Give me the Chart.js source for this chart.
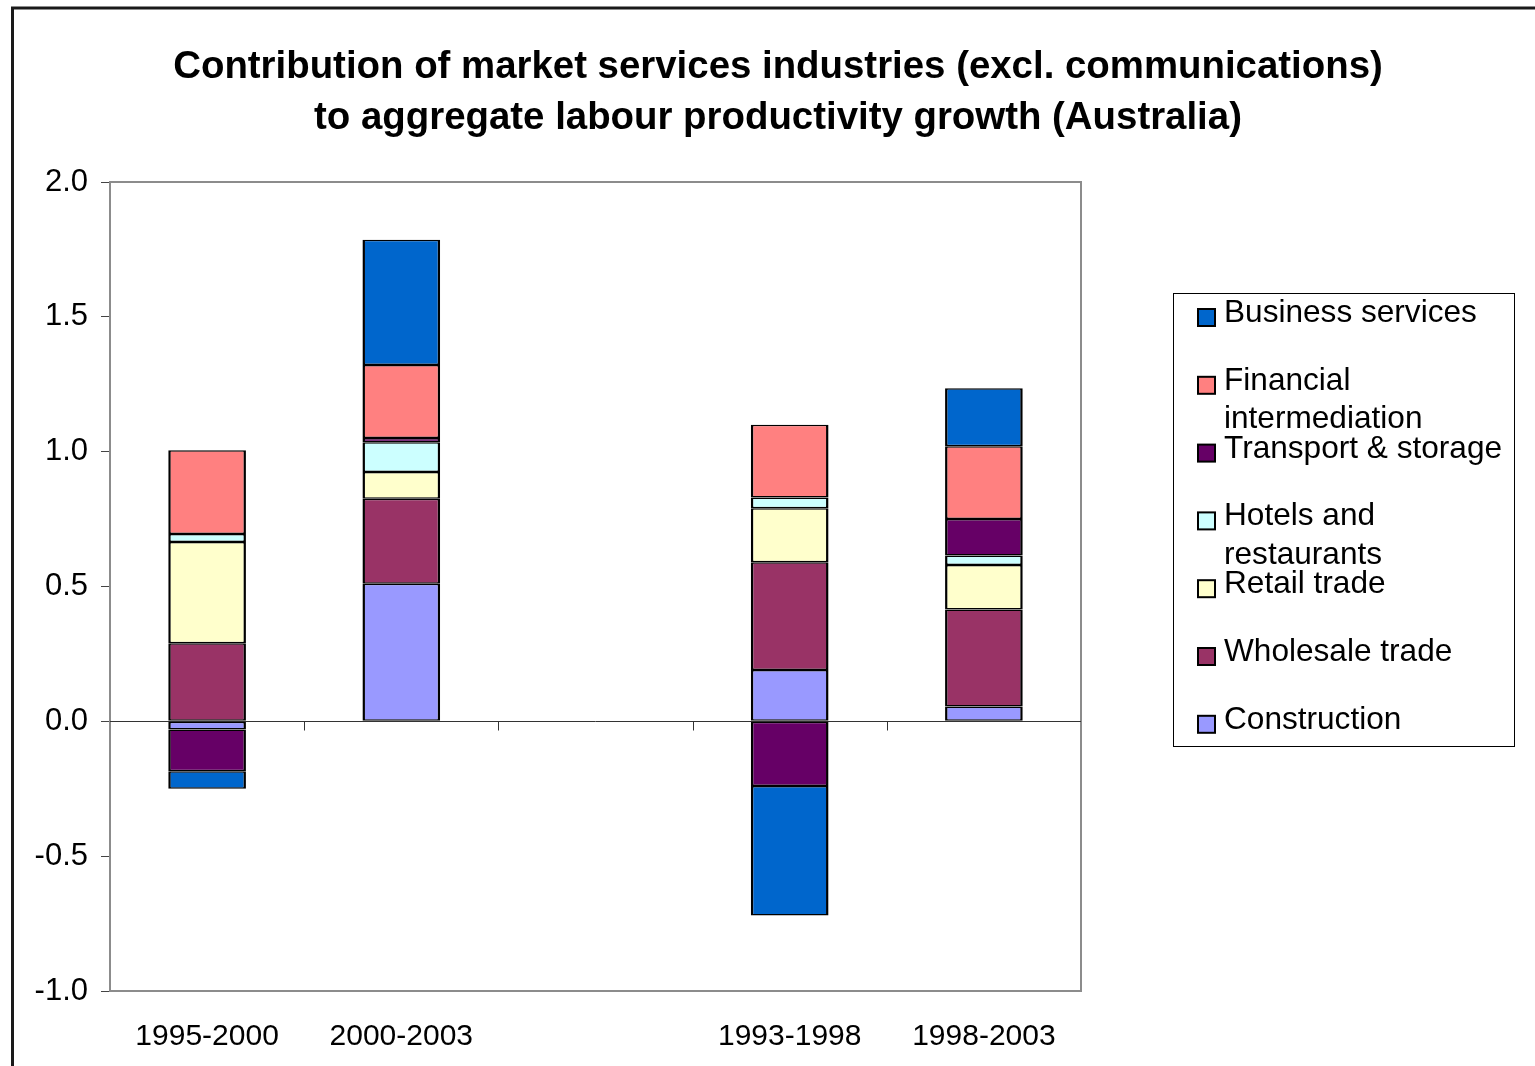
<!DOCTYPE html>
<html>
<head>
<meta charset="utf-8">
<script src="https://cdn.jsdelivr.net/npm/chart.js@4/dist/chart.umd.min.js"></script>
<style>
  html, body { margin: 0; padding: 0; background: #ffffff; }
  #wrap { position: relative; width: 1535px; height: 1066px; }
  canvas { display: block; }
</style>
</head>
<body>
<div id="wrap"><canvas id="chart" width="1535" height="1066"></canvas></div>
<script>
// Periods (the blank slot separates the two groups of periods)
const categories = ['1995-2000', '2000-2003', '', '1993-1998', '1998-2003'];

// Contribution to aggregate labour productivity growth, percentage points
const construction = [-0.03, 0.51, null, 0.19, 0.055];
const wholesaleTrade = [0.29, 0.315, null, 0.40, 0.36];
const retailTrade = [0.375, 0.10, null, 0.20, 0.165];
const hotelsRestaurants = [0.03, 0.11, null, 0.04, 0.035];
const transportStorage = [-0.155, 0.016, null, -0.24, 0.135];
const financialIntermediation = [0.31, 0.27, null, 0.27, 0.27];
const businessServices = [-0.065, 0.465, null, -0.48, 0.215];

const yTicks = [-1.0, -0.5, 0.0, 0.5, 1.0, 1.5, 2.0];

const titleLines = [
  'Contribution of market services industries (excl. communications)',
  'to aggregate labour productivity growth (Australia)'
];

const FONT = '"Liberation Sans", Arial, sans-serif';

function series(label, data, color) {
  return {
    label: label,
    data: data,
    backgroundColor: color,
    borderColor: '#000000',
    borderWidth: { top: 1.5, bottom: 1.5, left: 2.5, right: 2.5 },
    borderSkipped: false,
    barPercentage: 0.4,
    categoryPercentage: 1.0
  };
}

// Stacked bottom-to-top
const datasets = [
  series('Construction', construction, '#9999FF'),
  series('Wholesale trade', wholesaleTrade, '#993366'),
  series('Retail trade', retailTrade, '#FFFFCC'),
  series('Hotels and restaurants', hotelsRestaurants, '#CCFFFF'),
  series('Transport & storage', transportStorage, '#660066'),
  series('Financial intermediation', financialIntermediation, '#FF8080'),
  series('Business services', businessServices, '#0066CC')
];

function wrapText(ctx, text, maxWidth) {
  const words = text.split(' ');
  const lines = [];
  let line = '';
  for (const w of words) {
    const test = line ? line + ' ' + w : w;
    if (line && ctx.measureText(test).width > maxWidth) {
      lines.push(line);
      line = w;
    } else {
      line = test;
    }
  }
  if (line) lines.push(line);
  return lines;
}

const decorations = {
  id: 'decorations',
  beforeDraw(chart) {
    const ctx = chart.ctx;
    ctx.save();
    ctx.fillStyle = '#ffffff';
    ctx.fillRect(0, 0, chart.width, chart.height);
    ctx.restore();
  },
  beforeDatasetsDraw(chart) {
    const ctx = chart.ctx;
    const a = chart.chartArea;
    const x = chart.scales.x;
    const y = chart.scales.y;
    ctx.save();
    // plot frame
    ctx.strokeStyle = '#8c8c8c';
    ctx.lineWidth = 2;
    ctx.strokeRect(a.left, a.top, a.right - a.left, a.bottom - a.top);
    // zero line with category ticks
    const y0 = Math.round(y.getPixelForValue(0)) + 0.5;
    ctx.strokeStyle = '#333333';
    ctx.lineWidth = 1;
    ctx.beginPath();
    ctx.moveTo(a.left, y0);
    ctx.lineTo(a.right, y0);
    const n = categories.length;
    for (let i = 1; i < n; i++) {
      const bx = Math.round((x.getPixelForValue(i - 1) + x.getPixelForValue(i)) / 2) + 0.5;
      ctx.moveTo(bx, y0);
      ctx.lineTo(bx, y0 + 9);
    }
    ctx.stroke();
    ctx.restore();
  },
  afterDraw(chart) {
    const ctx = chart.ctx;
    ctx.save();
    // outer frame
    ctx.strokeStyle = '#1a1a1a';
    ctx.lineWidth = 3;
    ctx.beginPath();
    ctx.moveTo(12.5, chart.height + 5);
    ctx.lineTo(12.5, 8);
    ctx.lineTo(chart.width + 5, 8);
    ctx.stroke();

    // title
    ctx.fillStyle = '#000000';
    ctx.font = 'bold 38.4px ' + FONT;
    ctx.textAlign = 'center';
    ctx.textBaseline = 'alphabetic';
    ctx.fillText(titleLines[0], 778, 78);
    ctx.fillText(titleLines[1], 778, 129);

    // legend
    const lx = 1173, ly = 293, lw = 341, lh = 453;
    ctx.strokeStyle = '#000000';
    ctx.lineWidth = 1;
    ctx.strokeRect(lx + 0.5, ly + 0.5, lw, lh);
    ctx.font = '31.6px ' + FONT;
    ctx.textAlign = 'left';
    const items = chart.data.datasets.slice().reverse();
    items.forEach((ds, k) => {
      const base = 322 + k * 67.8;
      ctx.fillStyle = ds.backgroundColor;
      ctx.fillRect(1198, base - 13, 17, 17);
      ctx.lineWidth = 2;
      ctx.strokeStyle = '#000000';
      ctx.strokeRect(1198, base - 13, 17, 17);
      ctx.fillStyle = '#000000';
      const lines = wrapText(ctx, ds.label, 284);
      lines.forEach((t, j) => ctx.fillText(t, 1224, base + j * 38.5));
    });
    ctx.restore();
  }
};

new Chart(document.getElementById('chart'), {
  type: 'bar',
  data: { labels: categories, datasets: datasets },
  options: {
    responsive: false,
    animation: false,
    devicePixelRatio: 1,
    layout: { padding: { top: 182, right: 454, bottom: 0, left: 0 } },
    plugins: {
      legend: { display: false },
      title: { display: false },
      tooltip: { enabled: false }
    },
    scales: {
      x: {
        stacked: true,
        grid: { display: false, drawTicks: false },
        border: { display: false },
        ticks: {
          color: '#000000',
          font: { family: FONT, size: 30 },
          padding: 28,
          maxRotation: 0,
          autoSkip: false
        },
        afterFit(scale) { scale.height = 75; }
      },
      y: {
        stacked: true,
        min: -1,
        max: 2,
        afterBuildTicks(scale) { scale.ticks = yTicks.map(v => ({ value: v })); },
        grid: { drawOnChartArea: false, drawTicks: true, tickLength: 9, color: '#444444', lineWidth: 1 },
        border: { display: true, color: '#444444', width: 2 },
        ticks: {
          color: '#000000',
          font: { family: FONT, size: 31 },
          padding: 13,
          callback: (v) => Number(v).toFixed(1)
        },
        afterFit(scale) { scale.width = 110; }
      }
    }
  },
  plugins: [decorations]
});
</script>
</body>
</html>
